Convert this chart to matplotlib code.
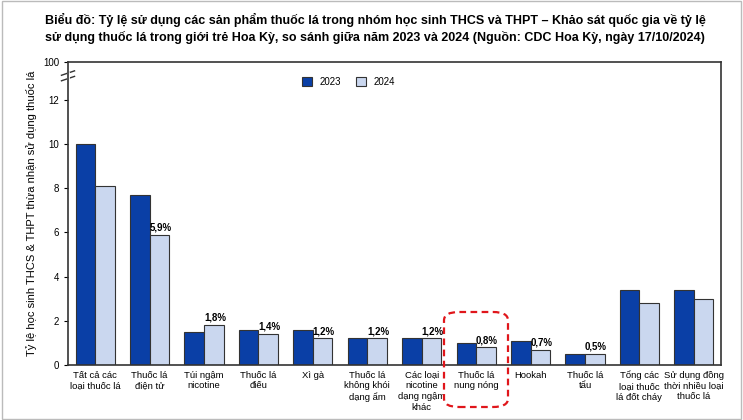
import matplotlib
matplotlib.use("Agg")
import matplotlib.pyplot as plt
from matplotlib.patches import FancyBboxPatch
import numpy as np

categories = ["Tất cả các\nloại thuốc lá", "Thuốc lá\nđiện tử", "Túi ngậm\nnicotine", "Thuốc lá\nđiếu",
              "Xì gà", "Thuốc lá\nkhông khói\ndạng ẩm", "Các loại\nnicotine\ndạng ngậm\nkhác",
              "Thuốc lá\nnung nóng", "Hookah", "Thuốc lá\ntẩu", "Tổng các\nloại thuốc\nlá đốt cháy",
              "Sử dụng đồng\nthời nhiều loại\nthuốc lá"]
v2023 = [10.0, 7.7, 1.5, 1.6, 1.6, 1.2, 1.2, 1.0, 1.1, 0.5, 3.4, 3.4]
v2024 = [8.1, 5.9, 1.8, 1.4, 1.2, 1.2, 1.2, 0.8, 0.7, 0.5, 2.8, 3.0]
labels2024 = ["", "5,9%", "1,8%", "1,4%", "1,2%", "1,2%", "1,2%", "0,8%", "0,7%", "0,5%", "", ""]

plt.rcParams['font.family'] = ['Liberation Sans', 'DejaVu Sans']
fig = plt.figure(figsize=(7.43, 4.2), dpi=100)
fig.patch.set_facecolor("white")
ax = fig.add_axes([68/743, 1-365/420, (721-68)/743, (365-62)/420])
x = np.arange(len(categories))
w = 0.36
dark = "#0A3FA6"; light = "#CAD7EF"
ax.bar(x - w/2, v2023, w, color=dark, edgecolor="#333333", linewidth=0.8, label="2023")
ax.bar(x + w/2, v2024, w, color=light, edgecolor="#333333", linewidth=0.8, label="2024")
for i, t in enumerate(labels2024):
    if t:
        ax.text(x[i] + w/2 + 0.02, v2024[i] + 0.1, t, ha="center", va="bottom", fontsize=7, fontweight="bold")
top = 13.7
ax.set_ylim(0, top)
ax.set_xlim(-0.5, len(categories) - 0.5)
ax.set_yticks([0, 2, 4, 6, 8, 10, 12, top])
ax.set_yticklabels(["0", "2", "4", "6", "8", "10", "12", "100"], fontsize=7)
ax.set_xticks(x)
ax.set_xticklabels(categories, fontsize=6.8, linespacing=1.25)
ax.tick_params(axis="x", length=0, pad=4)
ax.tick_params(axis="y", length=3)
for s in ax.spines.values():
    s.set_linewidth(1.2); s.set_color("#333333")
for yy in (12.95, 13.2):
    ax.plot([-0.62, -0.38], [yy - 0.1, yy + 0.1], color="#333333", lw=1, clip_on=False)
ax.plot([-0.5, -0.5], [12.95, 13.2], color="white", lw=2, clip_on=False)
ax.set_ylabel("Tỷ lệ học sinh THCS & THPT thừa nhận sử dụng thuốc lá", fontsize=8)
ax.legend(loc="upper center", bbox_to_anchor=(0.43, 0.98), ncol=2, frameon=False, fontsize=7,
          handlelength=1, handleheight=1, columnspacing=1.5)
fig.suptitle("Biểu đồ: Tỷ lệ sử dụng các sản phẩm thuốc lá trong nhóm học sinh THCS và THPT – Khảo sát quốc gia về tỷ lệ\n"
             "sử dụng thuốc lá trong giới trẻ Hoa Kỳ, so sánh giữa năm 2023 và 2024 (Nguồn: CDC Hoa Kỳ, ngày 17/10/2024)",
             x=0.505, y=0.97, fontsize=9, fontweight="bold", linespacing=1.4)
box = FancyBboxPatch((444/743, 1-407/420), (508-444)/743, (407-312)/420, transform=fig.transFigure,
                     boxstyle="round,pad=0,rounding_size=0.02", fill=False, edgecolor="#E0161B",
                     linestyle=(0, (3, 2)), linewidth=1.6)
fig.patches.append(box)
fig.patches.append(plt.Rectangle((0.003, 0.003), 0.994, 0.994, transform=fig.transFigure, fill=False,
                                 edgecolor="#BBBBBB", lw=1))
fig.savefig("out.png", dpi=100)
